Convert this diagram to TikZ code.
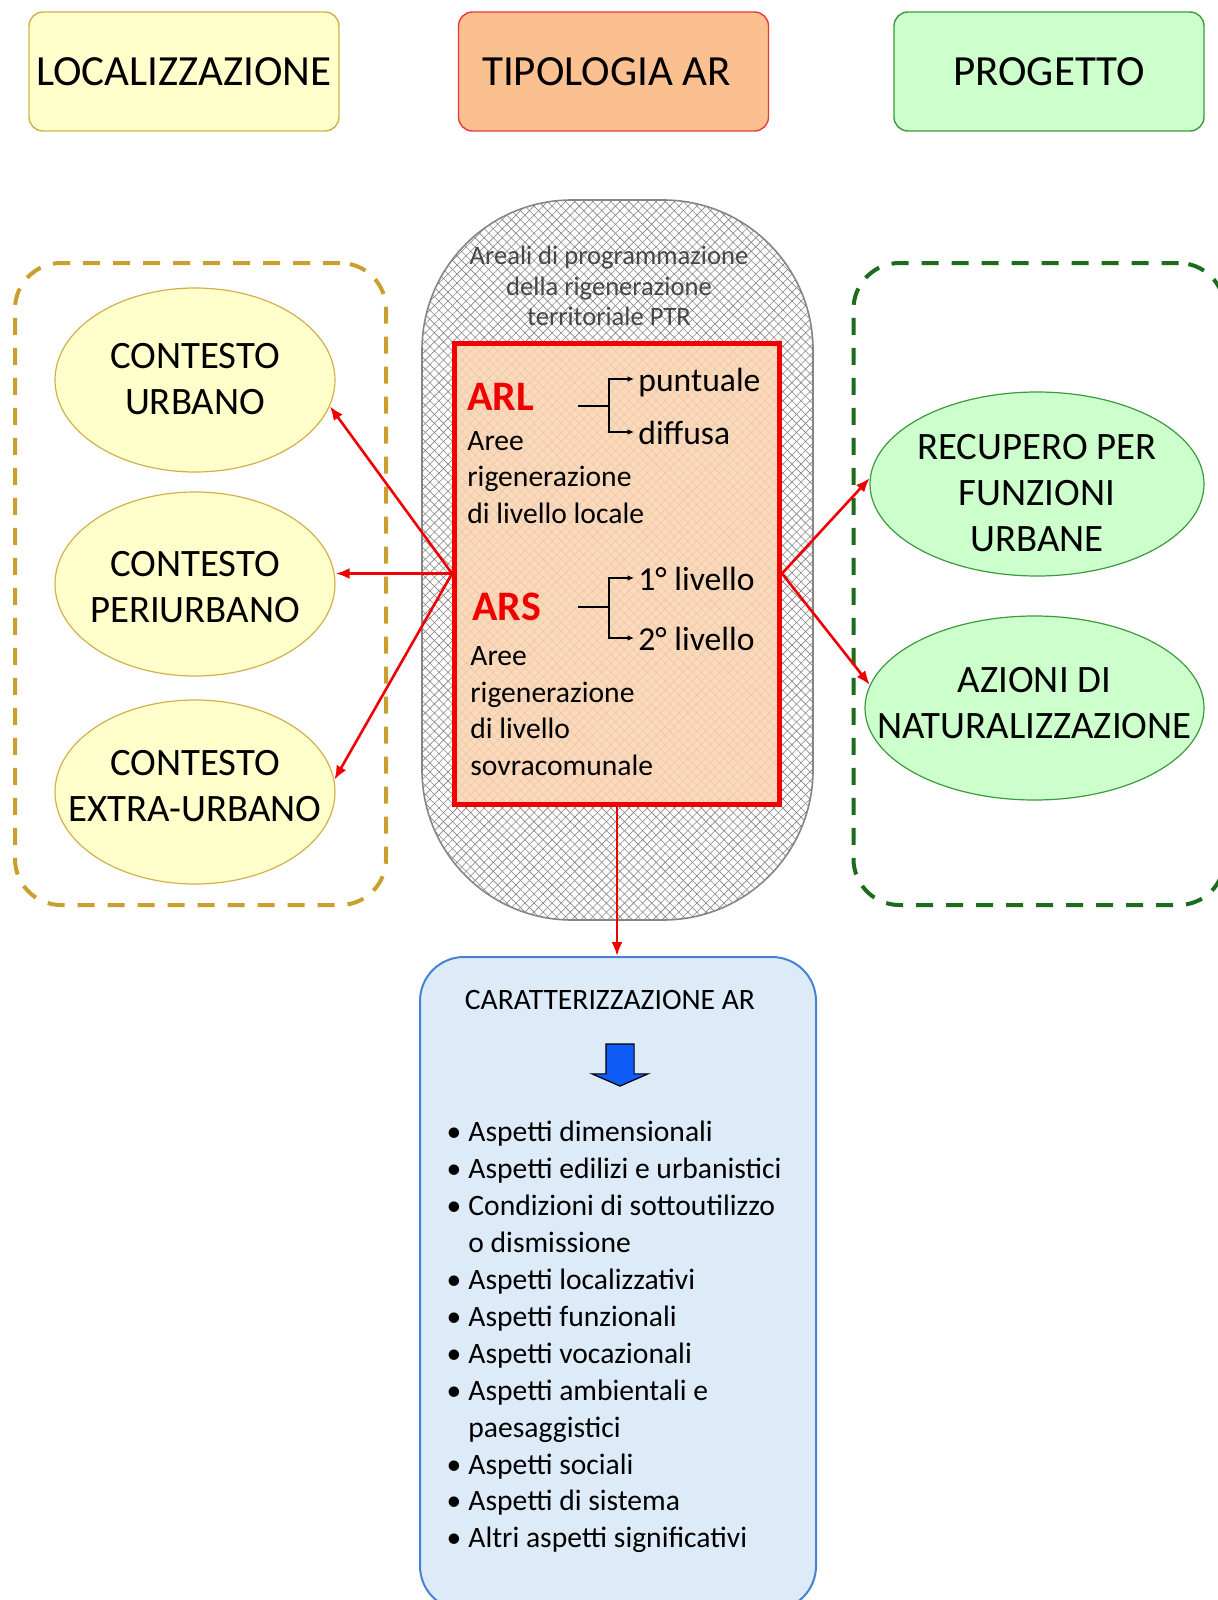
\documentclass[tikz,border=0pt]{standalone}
\usepackage{fontspec}
\setmainfont{Carlito}
\usetikzlibrary{shapes.geometric,shapes.arrows,patterns.meta,arrows.meta}
\definecolor{locfill}{HTML}{FFFFCC}
\definecolor{locline}{HTML}{D2B048}
\definecolor{locdash}{HTML}{C9A02E}
\definecolor{tipfill}{HTML}{FAC090}
\definecolor{tipline}{HTML}{E8393A}
\definecolor{progfill}{HTML}{CCFFCC}
\definecolor{progline}{HTML}{3C9A3C}
\definecolor{progdash}{HTML}{1D6B1D}
\definecolor{arfill}{HTML}{FBD3B0}
\definecolor{arred}{HTML}{F00000}
\definecolor{carfill}{HTML}{DDEBF8}
\definecolor{carline}{HTML}{4682CF}
\definecolor{carblue}{HTML}{0F5BF5}
\definecolor{ptrtext}{HTML}{474747}
\definecolor{hatch}{HTML}{858585}
\newcommand{\caritem}{\llap{\textbullet\hspace{3.5pt}}}
\begin{document}
\begin{tikzpicture}[x=0.5pt,y=-0.5pt,
  headbox/.style={draw, rounded corners=7pt, line width=0.7pt, minimum width=155pt, minimum height=59.5pt, font=\fontsize{21.5}{26}\selectfont},
  groupbox/.style={draw, line width=2pt, dash pattern=on 8.5pt off 6.5pt, rounded corners=23pt, minimum width=185.5pt, minimum height=321pt},
  place/.style={ellipse, draw=locline, fill=locfill, line width=0.6pt, minimum width=140pt, minimum height=92pt},
  action/.style={ellipse, draw=progline, fill=progfill, line width=0.6pt, minimum height=92pt},
  caption/.style={align=center, inner sep=0pt, font=\fontsize{19.4}{23}\selectfont},
  ptrzone/.style={draw=hatch, line width=0.8pt, rounded corners=75pt, minimum width=195.5pt, minimum height=360pt,
    preaction={fill=white},
    preaction={pattern={Lines[angle=45,distance=3.2pt,line width=0.3pt]}, pattern color=hatch},
    pattern={Lines[angle=-45,distance=3.2pt,line width=0.3pt]}, pattern color=hatch},
  arbox/.style={draw=arred, line width=2.5pt, fill=arfill, fill opacity=0.86, minimum width=162.5pt, minimum height=230.5pt},
  abbr/.style={anchor=base west, inner sep=0pt, text=arred, font=\fontsize{21}{25}\selectfont\bfseries},
  descr/.style={anchor=north west, inner sep=0pt, align=left, font=\fontsize{14.8}{18.3}\selectfont},
  branch/.style={anchor=west, inner sep=0pt, inner xsep=2pt, text height=15.5pt, text depth=3.5pt, font=\fontsize{16.8}{20}\selectfont},
  fork/.style={line width=0.7pt, -{Latex[length=3.2pt,width=2.8pt]}},
  link/.style={arred, line width=1.3pt, -{Latex[length=7pt,width=5.5pt]}},
  carbox/.style={draw=carline, fill=carfill, line width=1pt, rounded corners=22pt, minimum width=198pt, minimum height=326.5pt}]
\useasboundingbox (0,0) rectangle (1218,1600);

\node[headbox, draw=locline, fill=locfill] (loc) at (184,71.5) {LOCALIZZAZIONE};
\node[headbox, draw=tipline, fill=tipfill] (tip) at (613.5,71.5) {TIPOLOGIA AR\kern7pt};
\node[headbox, draw=progline, fill=progfill] (prog) at (1049,71.5) {PROGETTO};

\node[groupbox, draw=locdash] (locframe) at (200.5,584) {};
\node[groupbox, draw=progdash] (progframe) at (1039,584) {};

\node[place, label={[caption, yshift=0.7pt]center:{CONTESTO\\URBANO}}] (urbano) at (195,380) {};
\node[place, label={[caption, yshift=-1.3pt]center:{CONTESTO\\PERIURBANO}}] (periurbano) at (195,584) {};
\node[place, label={[caption, yshift=3pt]center:{CONTESTO\\EXTRA-URBANO}}] (extra) at (195,792) {};

\node[action, minimum width=167pt, label={[caption, yshift=-4.6pt]center:{RECUPERO PER\\FUNZIONI\\URBANE}}] (recupero) at (1037,484) {};
\node[action, minimum width=169.5pt, label={[caption, yshift=2.5pt]center:{AZIONI DI\\NATURALIZZAZIONE}}] (azioni) at (1034.5,708) {};

\node[ptrzone] (ptr) at (617.5,560) {};
\node[align=center, inner sep=0pt, anchor=north, text=ptrtext, font=\fontsize{13.3}{15.2}\selectfont] (ptrtitle) at (609,246) {Areali di programmazione\\della rigenerazione\\territoriale PTR};

\node[arbox] (ar) at (617,573.5) {};

\node[abbr] (arl) at (467,410) {ARL};
\node[descr] (arldesc) at (467,431) {Aree\\rigenerazione\\di livello locale};
\node[branch] (punt) at (634,379) {puntuale};
\node[branch] (diff) at (634,432) {diffusa};
\coordinate (arlstem) at (578,406);
\coordinate (arlfork) at (609,406);
\draw[line width=0.7pt] (arlstem) -- (arlfork);
\draw[fork] (arlfork) |- (punt.west);
\draw[fork] (arlfork) |- (diff.west);

\node[abbr] (ars) at (472,620) {ARS};
\node[descr] (arsdesc) at (470,646) {Aree\\rigenerazione\\di livello\\sovracomunale};
\node[branch] (lv1) at (634,578) {1° livello};
\node[branch] (lv2) at (634,638) {2° livello};
\coordinate (arsstem) at (578,607);
\coordinate (arsfork) at (609,607);
\draw[line width=0.7pt] (arsstem) -- (arsfork);
\draw[fork] (arsfork) |- (lv1.west);
\draw[fork] (arsfork) |- (lv2.west);

\node[carbox] (car) at (618,1283.5) {};
\node[font=\fontsize{14.8}{18}\selectfont] (cartitle) at (610,1000) {CARATTERIZZAZIONE AR};
\node[single arrow, rotate=-90, draw=black, fill=carblue, line width=0.6pt, inner xsep=0pt, inner ysep=6.75pt, minimum height=21pt, single arrow head extend=7pt, single arrow tip angle=133] (cararrow) at (620,1062) {};
\node[anchor=north west, inner sep=0pt, align=left, font=\fontsize{14.8}{18.45}\selectfont] (carlist) at (468,1121) {\caritem Aspetti dimensionali\\
\caritem Aspetti edilizi e urbanistici\\
\caritem Condizioni di sottoutilizzo\\
o dismissione\\
\caritem Aspetti localizzativi\\
\caritem Aspetti funzionali\\
\caritem Aspetti vocazionali\\
\caritem Aspetti ambientali e\\
paesaggistici\\
\caritem Aspetti sociali\\
\caritem Aspetti di sistema\\
\caritem Altri aspetti significativi};

\draw[link] (ar.west) -- (urbano.-11);
\draw[link] (ar.west) -- (ar.west -| periurbano.east);
\draw[link] (ar.west) -- (extra.5);
\draw[link] (ar.east) -- (recupero.178);
\draw[link] (ar.east) -- (azioni.172);
\draw[link] (ar.south) -- (ar.south |- car.north);
\end{tikzpicture}
\end{document}
